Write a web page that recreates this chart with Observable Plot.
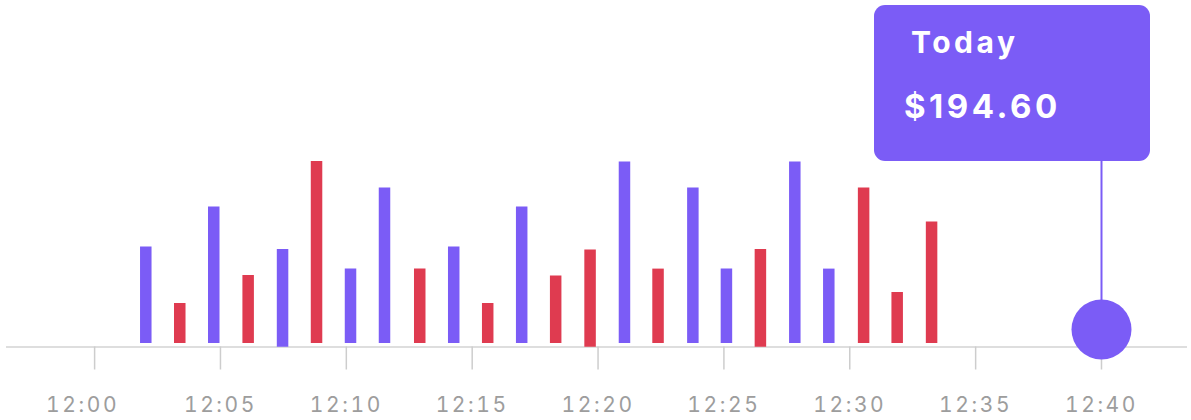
<!DOCTYPE html>
<html>
<head>
<meta charset="utf-8">
<script src="https://cdn.jsdelivr.net/npm/d3@7"></script>
<script src="https://cdn.jsdelivr.net/npm/@observablehq/plot@0.6"></script>
<style>
  html, body { margin: 0; padding: 0; background: #ffffff; }
  #wrap { position: relative; width: 1191px; height: 420px; overflow: hidden; font-family: Inter, "Noto Sans", sans-serif; }
  #wrap svg { display: block; }
  #wrap g[aria-label="x-axis tick label"] text { letter-spacing: 2.6px; }
  .tip { position: absolute; background: #7B5CF6; border-radius: 11px; color: #ffffff; font-weight: 700; }
  .tip .t1 { position: absolute; font-size: 30px; line-height: 30px; letter-spacing: 3.5px; white-space: nowrap; }
  .tip .t2 { position: absolute; font-size: 33px; line-height: 33px; letter-spacing: 3.5px; white-space: nowrap; }
</style>
</head>
<body>
<div id="wrap"></div>
<script>
// ---- data ----
const day = "2024-01-01T";
const barTimes = ["12:02:02","12:03:23","12:04:44","12:06:06","12:07:28","12:08:49","12:10:10","12:11:31",
                  "12:12:55","12:14:16","12:15:37","12:16:58","12:18:19","12:19:41","12:21:03","12:22:23",
                  "12:23:46","12:25:06","12:26:27","12:27:49","12:29:10","12:30:33","12:31:53","12:33:15"];
const barHigh  = [48.2, 20, 68.2, 34, 47, 91, 37.2, 77.8,
                  37.2, 48.2, 20, 68.2, 33.8, 46.8, 90.8, 37.2,
                  77.8, 37.2, 47, 90.8, 37.2, 77.8, 25.5, 60.8];
const barLow   = [0, 0, 0, 0, -1.85, 0, 0, 0,
                  0, 0, 0, 0, 0, -1.85, 0, 0,
                  0, 0, -1.85, 0, 0, 0, 0, 0];
const barDir   = ["up","down","up","down","up","down","up","up",
                  "down","up","down","up","down","down","up","down",
                  "up","up","down","up","up","down","down","down"];
const tickTimes = ["12:00","12:05","12:10","12:15","12:20","12:25","12:30","12:35","12:40"];
const current = { time: "12:40:00", value: 7, label: "Today", price: "$194.60" };
const xDomain = ["11:56:30", "12:43:25"];
const yDomain = [-1.75, 91];

// ---- style ----
const PURPLE = "#7B5CF6", RED = "#DF3B50";

const toDate = s => new Date(day + (s.length === 5 ? s + ":00" : s) + "Z");
const bars = barTimes.map((t, i) => ({ t: toDate(t), low: barLow[i], high: barHigh[i], dir: barDir[i] }));
const cur = { t: toDate(current.time), v: current.value };

const chart = Plot.plot({
  width: 1191,
  height: 420,
  marginLeft: 6,
  marginRight: 4,
  marginTop: 161,
  marginBottom: 73.5,
  style: { background: "#ffffff", fontFamily: "Inter, 'Noto Sans', sans-serif", overflow: "visible" },
  x: { type: "utc", domain: xDomain.map(toDate) },
  y: { domain: yDomain, axis: null },
  color: { domain: ["up", "down"], range: [PURPLE, RED] },
  marks: [
    Plot.ruleY([yDomain[0]], { stroke: "#d3d3d3", strokeWidth: 1.5 }),
    Plot.axisX({
      ticks: tickTimes.map(toDate),
      tickFormat: d3.utcFormat("%H:%M"),
      tickSize: 23,
      tickPadding: 27,
      stroke: "#cdcdcd",
      strokeWidth: 1.5,
      fill: "#9d9d9d",
      fontSize: 21,
      label: null
    }),
    Plot.ruleX(bars, { x: "t", y1: "low", y2: "high", stroke: "dir", strokeWidth: 11.5 }),
    Plot.ruleX([cur], { x: "t", y1: "v", y2: () => yDomain[1], stroke: PURPLE, strokeWidth: 2 }),
    Plot.dot([cur], { x: "t", y: "v", r: 30, fill: PURPLE })
  ]
});

const wrap = document.getElementById("wrap");
wrap.appendChild(chart);

// nudge first tick label like the reference
const firstLabel = chart.querySelector('g[aria-label="x-axis tick label"] text');
if (firstLabel) firstLabel.setAttribute("x", -12);

// tooltip box anchored to the current point
const px = chart.scale("x").apply(cur.t);
const py = chart.scale("y").apply(yDomain[1]);
const tip = document.createElement("div");
tip.className = "tip";
const W = 276, H = 156;
tip.style.left = (px - 227) + "px";
tip.style.top = (py - H) + "px";
tip.style.width = W + "px";
tip.style.height = H + "px";
const t1 = document.createElement("div");
t1.className = "t1"; t1.textContent = current.label;
t1.style.left = "37px"; t1.style.top = "22px";
const t2 = document.createElement("div");
t2.className = "t2"; t2.textContent = current.price;
t2.style.left = "30px"; t2.style.top = "85px";
tip.appendChild(t1); tip.appendChild(t2);
wrap.appendChild(tip);
</script>
</body>
</html>
